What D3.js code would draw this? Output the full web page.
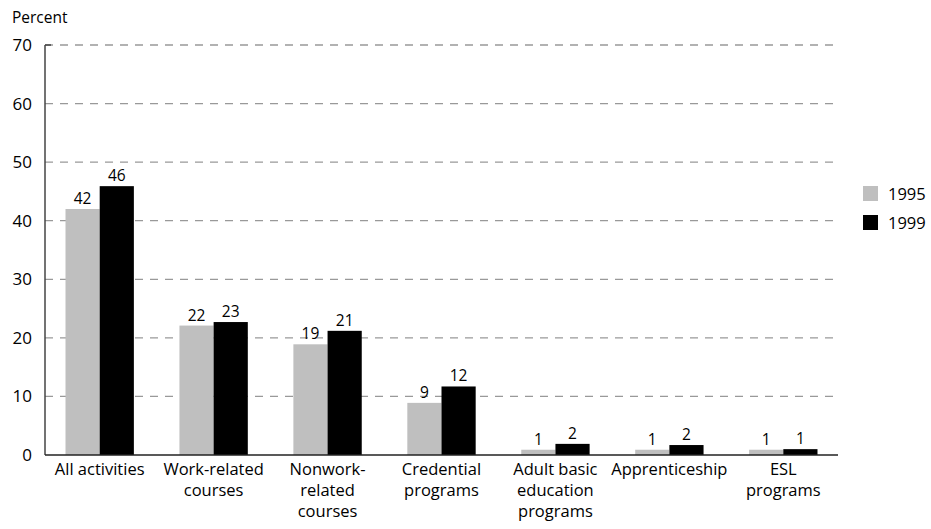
<!DOCTYPE html>
<html>
<head>
<meta charset="utf-8">
<script src="https://cdn.jsdelivr.net/npm/d3@7"></script>
<style>
  body { margin: 0; background: #fff; }
  svg text { font-family: "Open Sans", sans-serif; fill: #000; }
</style>
</head>
<body>
<div id="main"></div>
<script>
// categories (lines of each label)
const categories = [
  ["All activities"],
  ["Work-related", "courses"],
  ["Nonwork-", "related", "courses"],
  ["Credential", "programs"],
  ["Adult basic", "education", "programs"],
  ["Apprenticeship"],
  ["ESL", "programs"]
];
const seriesNames = ["1995", "1999"];
const values1995 = [42, 22.1, 18.9, 8.9, 0.9, 0.9, 0.9];
const values1999 = [45.9, 22.7, 21.2, 11.7, 1.9, 1.7, 1.0];
const labels1995 = [42, 22, 19, 9, 1, 1, 1];
const labels1999 = [46, 23, 21, 12, 2, 2, 1];
const yTicks = [0, 10, 20, 30, 40, 50, 60, 70];

function main() {
  const svgWidth = 931, svgHeight = 529;
  const left = 45, right = 838, top = 45, bottom = 455;
  const colors = ["#bfbfbf", "#000000"];

  const svg = d3.select("#main").append("svg")
    .attr("width", svgWidth).attr("height", svgHeight);

  const y = d3.scaleLinear().domain([0, 70]).range([bottom, top]);
  const x = d3.scaleBand().domain(d3.range(categories.length))
    .range([left, right]).paddingInner(0.4).paddingOuter(0.18);
  const xs = d3.scaleBand().domain([0, 1]).range([0, x.bandwidth()]);

  // gridlines
  svg.append("g").selectAll("line")
    .data(yTicks.filter(d => d > 0)).enter().append("line")
    .attr("x1", left).attr("x2", right)
    .attr("y1", d => y(d)).attr("y2", d => y(d))
    .attr("stroke", "#999").attr("stroke-width", 1.3)
    .attr("stroke-dasharray", "8,7");

  // y tick labels
  svg.append("g").selectAll("text")
    .data(yTicks).enter().append("text")
    .attr("x", 32).attr("y", d => y(d) + 6)
    .attr("text-anchor", "end")
    .attr("font-size", 17)
    .text(d => d);

  svg.append("text").attr("x", 12).attr("y", 23)
    .attr("font-size", 15.5).text("Percent");

  // bars
  const data = categories.map((c, i) => [values1995[i], values1999[i]]);
  const labs = categories.map((c, i) => [labels1995[i], labels1999[i]]);
  const groups = svg.append("g").selectAll("g")
    .data(data).enter().append("g")
    .attr("transform", (d, i) => "translate(" + x(i) + ",0)");

  groups.selectAll("rect")
    .data(d => d).enter().append("rect")
    .attr("x", (d, j) => xs(j))
    .attr("y", d => y(d))
    .attr("width", xs.bandwidth())
    .attr("height", d => bottom - y(d))
    .attr("fill", (d, j) => colors[j]);

  groups.each(function (d, i) {
    d3.select(this).selectAll("text.val")
      .data(d).enter().append("text")
      .attr("class", "val")
      .attr("x", (v, j) => xs(j) + xs.bandwidth() / 2)
      .attr("y", v => y(v) - 5)
      .attr("text-anchor", "middle")
      .attr("font-size", 15.5)
      .text((v, j) => labs[i][j]);
  });

  // axes lines
  svg.append("line").attr("x1", left).attr("x2", left)
    .attr("y1", top).attr("y2", bottom)
    .attr("stroke", "#444").attr("stroke-width", 1.5);
  svg.append("line").attr("x1", left).attr("x2", left + 6)
    .attr("y1", top).attr("y2", top)
    .attr("stroke", "#444").attr("stroke-width", 1.5);
  svg.append("line").attr("x1", left).attr("x2", right)
    .attr("y1", bottom).attr("y2", bottom)
    .attr("stroke", "#222").attr("stroke-width", 1.5);

  // category labels
  svg.append("g").selectAll("text")
    .data(categories).enter().append("text")
    .attr("text-anchor", "middle")
    .attr("font-size", 16.5)
    .each(function (lines, i) {
      d3.select(this).selectAll("tspan")
        .data(lines).enter().append("tspan")
        .attr("x", x(i) + x.bandwidth() / 2)
        .attr("y", (l, k) => 475 + k * 21)
        .text(l => l);
    });

  // legend
  const legend = svg.append("g").attr("transform", "translate(863,186)");
  legend.selectAll("rect").data(seriesNames).enter().append("rect")
    .attr("x", 0).attr("y", (d, i) => i * 29)
    .attr("width", 15).attr("height", 15)
    .attr("fill", (d, i) => colors[i]);
  legend.selectAll("text").data(seriesNames).enter().append("text")
    .attr("x", 25).attr("y", (d, i) => i * 29 + 14)
    .attr("font-size", 16.5)
    .text(d => d);
}
main();
</script>
</body>
</html>
